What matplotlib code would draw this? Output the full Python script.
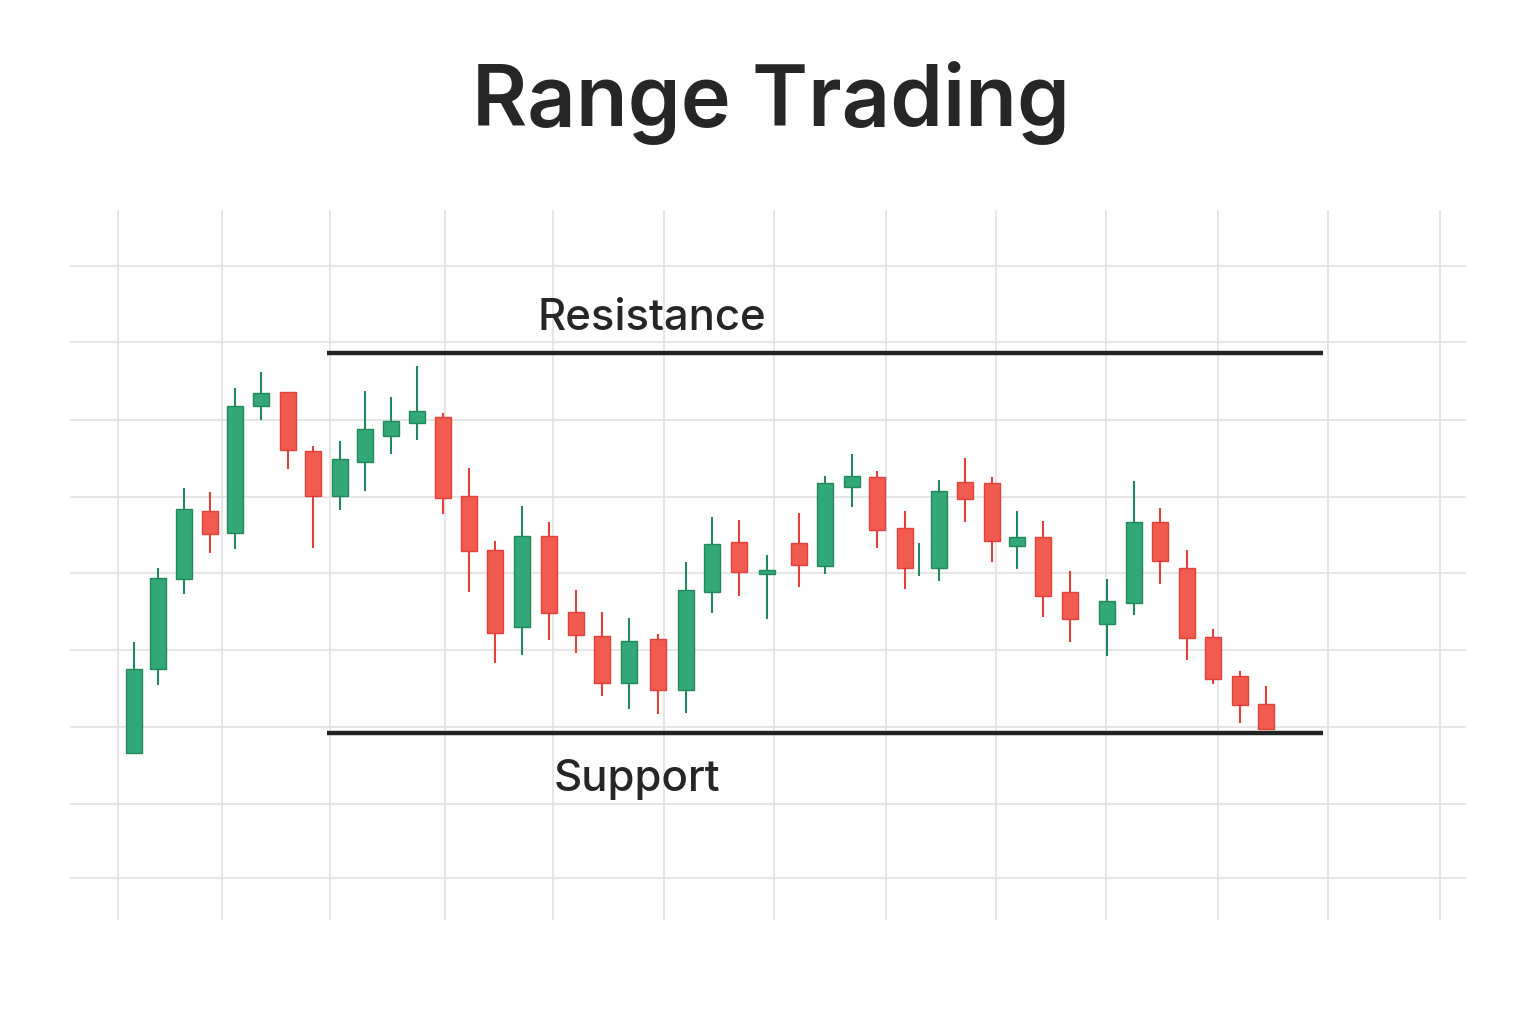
import matplotlib
matplotlib.use("Agg")
import matplotlib.pyplot as plt

# ---- data (time position, open, high, low, close) ----
t_pos = [134, 158, 184, 210, 235, 261, 288, 313, 340, 365, 391, 417, 443, 469, 495,
         522, 549, 576, 602, 629, 658, 686, 712, 739, 767, 799, 825, 852, 877, 905,
         919, 939, 965, 992, 1017, 1043, 1070, 1107, 1134, 1160, 1187, 1213, 1240, 1266]
opens = [24.7, 33.1, 42.1, 48.9, 46.7, 59.4, 60.8, 54.9, 50.4, 53.8, 56.4, 57.7, 58.3, 50.4, 45.0,
         37.3, 46.4, 38.8, 36.4, 31.7, 36.1, 31.0, 40.8, 45.8, 42.6, 45.7, 43.4, 51.3, 52.3, 47.2,
         44.0, 43.2, 51.8, 51.7, 45.4, 46.3, 40.8, 37.6, 39.7, 47.8, 43.2, 36.3, 32.4, 29.6]
highs = [35.8, 43.2, 51.2, 50.8, 61.2, 62.8, 60.8, 55.4, 55.9, 60.9, 60.3, 63.4, 58.7, 53.2, 45.9,
         49.4, 47.8, 41.0, 38.8, 38.2, 36.6, 43.8, 48.3, 48.0, 44.5, 48.7, 52.4, 54.6, 52.9, 48.9,
         45.7, 52.0, 54.2, 52.3, 48.9, 47.9, 42.9, 42.1, 51.9, 49.2, 45.0, 37.1, 32.9, 31.4]
lows = [24.7, 31.5, 40.6, 44.7, 45.1, 58.0, 53.1, 45.2, 49.0, 50.9, 54.6, 56.0, 48.6, 40.8, 33.7,
        34.5, 36.0, 34.7, 30.4, 29.1, 28.6, 28.7, 38.7, 40.4, 38.1, 41.3, 42.6, 49.3, 45.2, 41.1,
        42.4, 41.9, 47.8, 43.8, 43.1, 38.3, 35.8, 34.4, 38.5, 41.6, 34.0, 31.6, 27.7, 27.1]
closes = [33.1, 42.2, 49.1, 46.6, 59.4, 60.7, 55.0, 50.4, 54.1, 57.1, 57.9, 58.9, 50.2, 44.9, 36.7,
          46.4, 38.7, 36.5, 31.7, 35.9, 31.0, 41.0, 45.6, 42.8, 43.0, 43.5, 51.7, 52.4, 47.0, 43.2,
          44.0, 50.9, 50.1, 45.9, 46.3, 40.4, 38.1, 39.9, 47.8, 43.9, 36.2, 32.1, 29.5, 27.1]

support_level = 26.7
resistance_level = 64.7
level_span = [327, 1323]

title = "Range Trading"
label_resistance = "Resistance"
label_support = "Support"

# ---- styling / layout ----
GREEN = "#33a877"
GREEN_EDGE = "#23895d"
RED = "#f25b4f"
RED_EDGE = "#e2413a"
GRID = "#e2e2e2"
TEXT = "#262626"

grid_x = [118, 222, 330, 445, 553, 664, 774, 886, 996, 1106, 1218, 1328, 1440]
grid_y = [73.4, 65.8, 58.0, 50.3, 42.7, 35.0, 27.3, 19.6, 12.2]

W, H = 1536, 1024
fig = plt.figure(figsize=(W / 100, H / 100), dpi=100)
fig.patch.set_facecolor("white")
ax = fig.add_axes([70 / W, (H - 920) / H, 1396 / W, 710 / H])
ax.set_xlim(70, 1466)
ax.set_ylim(8.0, 79.0)
ax.axis("off")

for gx in grid_x:
    ax.axvline(gx, color=GRID, lw=1.2, zorder=0)
for gy in grid_y:
    ax.axhline(gy, color=GRID, lw=1.2, zorder=0)

body_w = 15.5
for t, o, h, l, c in zip(t_pos, opens, highs, lows, closes):
    up = c >= o
    face = GREEN if up else RED
    edge = GREEN_EDGE if up else RED_EDGE
    ax.vlines(t, l, h, color=edge, lw=1.5, zorder=2)
    if abs(c - o) > 0:
        ax.bar(t, abs(c - o), bottom=min(o, c), width=body_w, color=face,
               edgecolor=edge, linewidth=1.0, zorder=3)

ax.hlines([resistance_level, support_level], level_span[0], level_span[1],
          color="#222222", lw=3.2, zorder=4)

ax.text(652, 68.2, label_resistance, ha="center", va="center", fontsize=31.5,
        family="Inter", fontweight="medium", color=TEXT)
ax.text(637, 22.1, label_support, ha="center", va="center", fontsize=31.5,
        family="Inter", fontweight="medium", color=TEXT)

fig.text(771 / W, 1 - 103 / H, title, ha="center", va="center", fontsize=61,
         family="Inter", fontweight="semibold", color=TEXT)

fig.savefig("out.png", dpi=100, facecolor="white")
